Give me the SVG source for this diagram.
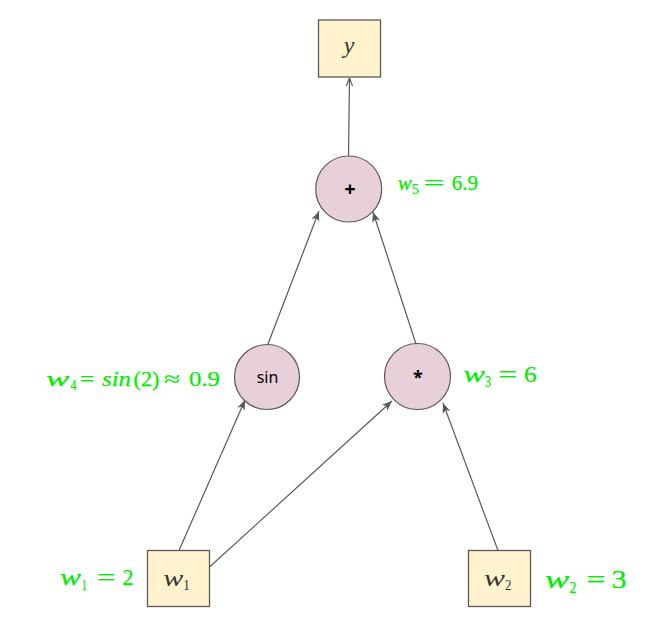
<svg xmlns="http://www.w3.org/2000/svg" width="650" height="638" viewBox="0 0 650 638">
<style>
.box{fill:#fff2cc;stroke:#595959;stroke-width:1.3}
.op{fill:#e8d0db;stroke:#595959;stroke-width:1.2}
.edge{stroke:#595959;stroke-width:1.2;fill:none}
.m{font-family:"Liberation Serif","DejaVu Serif",serif;fill:#00ee00;stroke:#00ee00;stroke-width:0.25}
.n{font-family:"Liberation Serif","DejaVu Serif",serif;fill:#333}
.it{font-style:italic}
.s{font-family:"Noto Sans","Liberation Sans",Arial,sans-serif;fill:#000}
</style>
<defs>
<marker id="a" viewBox="0 0 10 10" refX="10" refY="5" markerWidth="10" markerHeight="10" markerUnits="userSpaceOnUse" orient="auto">
<path d="M0,1 L10,5 L0,9 L2.5,5 Z" fill="#595959"/>
</marker>
<marker id="o" viewBox="0 0 10 10" refX="10" refY="5" markerWidth="9" markerHeight="9" markerUnits="userSpaceOnUse" orient="auto">
<path d="M1,1.5 L10,5 L1,8.5" fill="none" stroke="#595959" stroke-width="1.3"/>
</marker>
</defs>
<rect width="650" height="638" fill="#fff"/>
<g id="connectors">
<line class="edge" x1="348.5" y1="157" x2="349.5" y2="78" marker-end="url(#o)"/>
<line class="edge" x1="268" y1="344" x2="319" y2="211" marker-end="url(#a)"/>
<line class="edge" x1="416" y1="344" x2="373" y2="212" marker-end="url(#a)"/>
<line class="edge" x1="179" y1="550.5" x2="245" y2="400" marker-end="url(#a)"/>
<line class="edge" x1="209.5" y1="567" x2="392" y2="401" marker-end="url(#a)"/>
<line class="edge" x1="498" y1="550.5" x2="443" y2="403" marker-end="url(#a)"/>
</g>
<g id="node-y">
<rect class="box" x="318.5" y="20" width="62" height="57"/>
<text class="n it" x="349" y="53" font-size="24" text-anchor="middle">y</text>
</g>
<g id="node-plus">
<circle class="op" cx="348.7" cy="189" r="33"/>
<text class="s" x="350" y="196" font-size="20" font-weight="bold" text-anchor="middle">+</text>
</g>
<g id="label-w5" class="m" font-size="21">
<text class="it" x="397.7" y="190" textLength="14" lengthAdjust="spacingAndGlyphs">w</text>
<text x="412" y="194" font-size="14" textLength="7" lengthAdjust="spacingAndGlyphs">5</text>
<text x="423.5" y="190" textLength="21" lengthAdjust="spacingAndGlyphs">=</text>
<text x="451.7" y="190" textLength="26.3" lengthAdjust="spacingAndGlyphs">6.9</text>
</g>
<g id="node-sin">
<circle class="op" cx="267" cy="377" r="32.5"/>
<text class="s" x="267.5" y="383" font-size="16" text-anchor="middle">sin</text>
</g>
<g id="label-w4" class="m" font-size="21">
<text class="it" x="46" y="386" textLength="23.3" lengthAdjust="spacingAndGlyphs">w</text>
<text x="70.5" y="390" font-size="14" textLength="6" lengthAdjust="spacingAndGlyphs">4</text>
<text x="80" y="386" textLength="14.5" lengthAdjust="spacingAndGlyphs">=</text>
<text class="it" x="102" y="386" textLength="29" lengthAdjust="spacingAndGlyphs">sin</text>
<text x="133.5" y="386" textLength="26" lengthAdjust="spacingAndGlyphs">(2)</text>
<text x="164" y="386" textLength="16" lengthAdjust="spacingAndGlyphs">≈</text>
<text x="189" y="386" textLength="31" lengthAdjust="spacingAndGlyphs">0.9</text>
</g>
<g id="node-mul">
<circle class="op" cx="417.5" cy="376.5" r="33"/>
<text class="s" x="418" y="384" font-size="18" font-weight="bold" text-anchor="middle">*</text>
</g>
<g id="label-w3" class="m" font-size="24">
<text class="it" x="463.3" y="382" textLength="21.7" lengthAdjust="spacingAndGlyphs">w</text>
<text x="485" y="387" font-size="16" textLength="6" lengthAdjust="spacingAndGlyphs">3</text>
<text x="498.5" y="382" textLength="18.5" lengthAdjust="spacingAndGlyphs">=</text>
<text x="524" y="382" textLength="12.7" lengthAdjust="spacingAndGlyphs">6</text>
</g>
<g id="node-w1">
<rect class="box" x="147.5" y="550.5" width="62" height="56"/>
<text class="n it" x="163.3" y="586" font-size="24" textLength="20" lengthAdjust="spacingAndGlyphs">w</text>
<text class="n" x="183.3" y="590" font-size="15" textLength="6.5" lengthAdjust="spacingAndGlyphs">1</text>
</g>
<g id="label-w1" class="m" font-size="23">
<text class="it" x="60" y="585" textLength="21" lengthAdjust="spacingAndGlyphs">w</text>
<text x="81.5" y="589.5" font-size="15" textLength="5.5" lengthAdjust="spacingAndGlyphs">1</text>
<text x="97" y="585" textLength="18.5" lengthAdjust="spacingAndGlyphs">=</text>
<text x="122.5" y="585" textLength="11" lengthAdjust="spacingAndGlyphs">2</text>
</g>
<g id="node-w2">
<rect class="box" x="468.5" y="550.5" width="62" height="56"/>
<text class="n it" x="484" y="586" font-size="24" textLength="21" lengthAdjust="spacingAndGlyphs">w</text>
<text class="n" x="505" y="590" font-size="15" textLength="6.5" lengthAdjust="spacingAndGlyphs">2</text>
</g>
<g id="label-w2" class="m" font-size="25">
<text class="it" x="545" y="588" textLength="24.3" lengthAdjust="spacingAndGlyphs">w</text>
<text x="569.5" y="593" font-size="16" textLength="7" lengthAdjust="spacingAndGlyphs">2</text>
<text x="586.5" y="588" textLength="19" lengthAdjust="spacingAndGlyphs">=</text>
<text x="611.5" y="588" textLength="15" lengthAdjust="spacingAndGlyphs">3</text>
</g>
</svg>
